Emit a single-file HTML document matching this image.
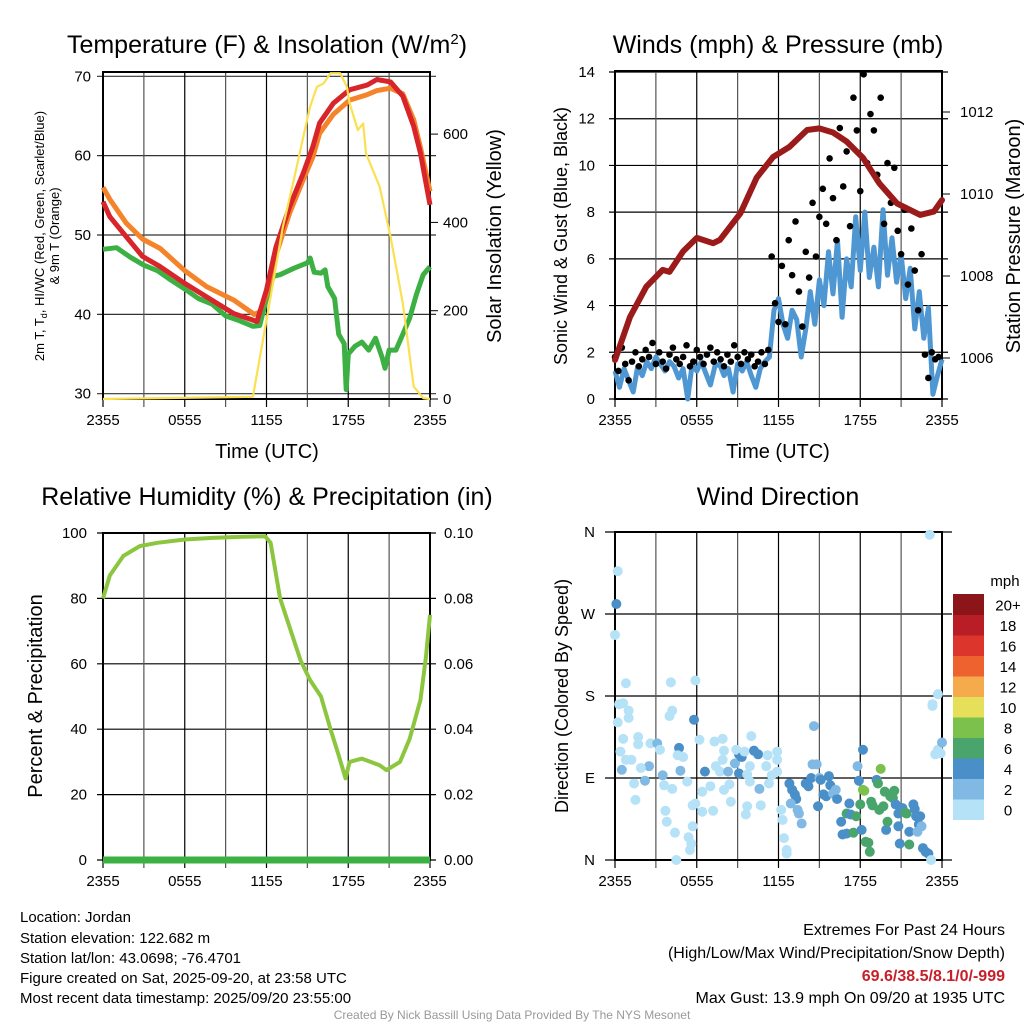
<!DOCTYPE html>
<html><head><meta charset="utf-8"><style>
html,body{margin:0;padding:0;background:#fff}
svg{display:block;font-family:"Liberation Sans",Arial,sans-serif}
</style></head><body>
<svg id="fig" width="1024" height="1024" viewBox="0 0 1024 1024" xmlns="http://www.w3.org/2000/svg">
<rect width="1024" height="1024" fill="#fff"/>
<g id="p1"></g>
<g id="p2"></g>
<g id="p3"></g>
<g id="p4"></g>
<text x="267" y="53" font-size="25" text-anchor="middle">Temperature (F) &amp; Insolation (W/m<tspan dy="-9" font-size="15">2</tspan><tspan dy="9">)</tspan></text>
<text x="778" y="53" font-size="25" text-anchor="middle">Winds (mph) &amp; Pressure (mb)</text>
<text x="267" y="505" font-size="25" text-anchor="middle">Relative Humidity (%) &amp; Precipitation (in)</text>
<text x="778" y="505" font-size="25" text-anchor="middle">Wind Direction</text>
<text transform="translate(44,236) rotate(-90)" font-size="13" text-anchor="middle">2m T, T<tspan font-size="9" dy="3">d</tspan><tspan dy="-3">, HI/WC (Red, Green, Scarlet/Blue)</tspan></text>
<text transform="translate(59,236) rotate(-90)" font-size="13" text-anchor="middle">&amp; 9m T (Orange)</text>
<text transform="translate(501,236) rotate(-90)" font-size="20" text-anchor="middle">Solar Insolation (Yellow)</text>
<text transform="translate(567,236) rotate(-90)" font-size="18" text-anchor="middle">Sonic Wind &amp; Gust (Blue, Black)</text>
<text transform="translate(1020,236) rotate(-90)" font-size="20" text-anchor="middle">Station Pressure (Maroon)</text>
<text transform="translate(42,696) rotate(-90)" font-size="20" text-anchor="middle">Percent &amp; Precipitation</text>
<text transform="translate(568,696) rotate(-90)" font-size="18" text-anchor="middle">Direction (Colored By Speed)</text>
<text x="267" y="458" font-size="20" text-anchor="middle">Time (UTC)</text>
<text x="778" y="458" font-size="20" text-anchor="middle">Time (UTC)</text>
<g font-size="15">
<text x="20" y="922">Location: Jordan</text>
<text x="20" y="943">Station elevation: 122.682 m</text>
<text x="20" y="963">Station lat/lon: 43.0698; -76.4701</text>
<text x="20" y="983">Figure created on Sat, 2025-09-20, at 23:58 UTC</text>
<text x="20" y="1003">Most recent data timestamp: 2025/09/20 23:55:00</text>
</g>
<g font-size="16" text-anchor="end">
<text x="1005" y="935">Extremes For Past 24 Hours</text>
<text x="1005" y="958">(High/Low/Max Wind/Precipitation/Snow Depth)</text>
<text x="1005" y="981" fill="#c8202a" font-weight="bold">69.6/38.5/8.1/0/-999</text>
<text x="1005" y="1003">Max Gust: 13.9 mph On 09/20 at 1935 UTC</text>
</g>
<text x="512" y="1019" font-size="12" fill="#999" text-anchor="middle">Created By Nick Bassill Using Data Provided By The NYS Mesonet</text>
</svg>
<script>
const timeTicks = ["2355","0555","1155","1755","2355"];
const t2Hours = [0,0.5,1.7,2.9,4.2,6.0,7.6,9.6,11.3,12.0,12.7,13.7,14.7,15.4,15.9,16.9,18.1,19.4,20.1,21.1,22.0,22.8,23.3,24];
const t2Vals  = [54.2,52.3,49.8,47.3,46.0,43.9,42.2,40.1,39.1,43.1,48.5,53.6,57.8,61.1,64.1,66.6,68.3,68.9,69.6,69.3,67.5,63.7,60.3,53.8];
const t9Hours = [0,0.5,1.7,2.9,4.2,6.0,7.6,9.6,11.1,11.5,12.0,12.7,13.7,14.7,15.4,15.9,16.9,18.1,19.4,20.1,21.1,22.0,22.8,23.3,24];
const t9Vals  = [56.0,54.5,51.5,49.5,48.3,45.5,43.5,41.8,40.0,40.3,42.5,47.5,52.8,57.0,59.8,62.8,65.2,67.0,67.7,68.2,68.5,67.8,64.5,61.0,55.5];
const tdHours = [0,1,2,3,4,5,6,7,8,9,10,11,11.5,12,12.5,13,14,15,15.2,15.5,16,16.3,16.5,17,17.3,17.7,17.85,18.0,18.5,19,19.5,20,20.5,20.7,21,21.5,22,22.5,23,23.5,24];
const tdVals  = [48.2,48.4,47.2,46.2,45.5,44.3,43.2,42.0,41.3,39.8,39.2,38.5,38.6,42.0,44.8,45.0,45.8,46.5,47.1,45.3,45.2,45.6,43.5,42.0,37.5,36.3,30.5,35.0,36.0,36.5,35.5,37.0,34.5,33.2,35.5,35.5,37.5,39.5,42.5,45.0,46.0];
const solarHours = [0,11.0,12.0,13.2,14.0,14.7,15.2,15.7,16.2,16.7,17.4,17.9,18.1,18.7,19.1,19.3,20.3,21.1,22.0,22.8,23.5,24];
const solarVals  = [0,5,179,390,496,594,662,707,715,738,738,707,670,609,624,556,481,368,217,28,2,0];
const tempTicks = [30,40,50,60,70];
const solarTicks = [0,200,400,600];
const windVals = [1.2,0.5,1.3,0.8,0.3,1.4,1.0,1.6,1.3,1.8,1.5,1.2,1.6,1.4,0.9,1.3,0.0,1.5,1.2,1.6,1.1,0.6,1.4,1.5,1.0,1.3,0.3,1.5,1.2,1.6,1.0,0.5,1.3,1.6,
 1.8,3.8,4.3,3.2,2.6,3.8,3.4,1.8,3.0,4.6,3.2,5.1,4.0,6.3,4.5,6.8,3.5,6.0,4.8,7.8,5.5,8.0,5.2,6.5,4.8,8.1,5.3,6.9,5.0,6.2,4.3,5.6,3.0,4.6,2.6,3.9,0.2,1.0,1.7];
const gustVals = [1.8,1.2,2.2,1.5,0.8,1.6,2.0,1.4,1.7,2.1,1.8,2.4,1.5,2.0,1.6,1.3,1.9,2.2,1.7,1.5,1.8,2.3,1.4,1.6,2.1,1.8,1.5,1.9,2.2,1.6,2.0,1.7,1.4,1.9,1.6,2.3,1.8,1.5,2.0,1.7,1.9,1.4,1.6,2.0,1.5,2.1,
 6.1,4.1,3.3,5.7,3.2,6.8,5.3,7.6,4.6,3.1,6.3,5.2,8.4,6.1,7.8,9.0,7.5,10.3,8.6,6.8,11.6,9.1,10.6,7.4,12.9,11.5,8.9,13.9,10.1,12.2,11.5,9.6,12.9,7.5,10.1,8.4,9.9,7.2,6.2,8.1,4.9,7.3,5.5,3.8,6.2,1.9,0.9,2.0,1.7,1.8];
const presHours = [0,1.1,2.3,3.5,4.0,5.0,6.0,7.2,7.7,9.2,10.4,11.6,12.8,14.1,15.0,16.0,17.0,18.2,19.4,20.7,22.4,23.4,24];
const presVals  = [1005.95,1007.0,1007.74,1008.15,1008.1,1008.6,1008.93,1008.8,1008.88,1009.53,1010.4,1010.9,1011.15,1011.56,1011.6,1011.5,1011.28,1010.88,1010.26,1009.77,1009.49,1009.57,1009.85];
const windTicks = [0,2,4,6,8,10,12,14];
const presTicks = [1006,1008,1010,1012];
const rhHours = [0,0.5,1.5,2.7,4,6,8,10,11.9,12.3,13.0,14.5,15.2,16.0,16.7,17.3,17.8,18.1,19.0,20.3,20.8,21.8,22.5,23.3,23.7,24];
const rhVals  = [80,87,93,96,97,98,98.5,98.8,99,97,80,61,55,50,40,32,25,30,31,29,27.5,30,37,49,62,75];
const rhTicks = [0,20,40,60,80,100];
const precipTicks = ["0.00","0.02","0.04","0.06","0.08","0.10"];
const dirHours = [0.2,0.1,0.0,0.8,0.3,0.6,0.2,1.0,1.0,0.6,1.7,0.4,2.6,1.7,1.2,0.8,0.5,2.5,3.1,2.2,1.4,1.5,1.9,3.5,3.3,4.1,4.0,4.2,3.7,3.8,4.4,3.6,4.2,4.7,4.6,4.8,5.3,5.0,5.9,5.8,6.2,6.6,5.7,5.9,5.4,5.6,5.5,5.7,4.5,6.4,6.4,7.2,7.0,7.3,7.9,8.0,7.4,7.7,7.9,8.3,8.4,8.5,8.0,8.8,9.1,8.9,9.3,9.1,9.5,10.0,10.2,10.5,9.9,9.7,9.9,9.6,9.7,10.6,10.7,11.1,11.2,11.5,11.3,11.9,11.9,11.9,12.2,12.3,12.4,12.6,12.6,12.8,13.0,13.2,13.3,12.9,13.4,13.5,13.7,14.0,14.2,14.4,14.6,14.5,14.8,15.0,15.1,14.9,15.3,15.5,15.7,15.8,16.0,16.3,16.2,16.6,16.7,17.0,17.0,17.2,17.3,17.5,17.7,17.8,17.9,18.0,18.1,18.2,18.2,18.3,18.4,18.6,18.7,18.8,18.9,19.2,19.3,19.4,19.5,19.7,19.8,19.9,20.0,20.2,20.4,20.5,20.6,20.8,20.9,20.8,21.1,21.3,21.4,21.6,21.6,21.9,22.0,22.1,22.3,22.4,22.5,22.2,22.6,22.8,23.0,23.2,23.1,23.3,23.3,23.7,23.5,23.7,24.0,23.9];
const dirDegs = [317,281,247,194,171,172,151,164,156,133,135,119,128,127,110,110,99,103,128,87,84,66,101,93,121,195,158,164,54,42,30,82,78,123,115,98,86,113,197,154,132,97,60,62,25,18,11,37,0,75,53,54,81,130,133,120,103,97,110,97,83,64,77,106,116,121,113,95,119,136,120,116,103,94,86,50,59,78,60,103,115,93,84,119,110,97,55,44,24,11,7,84,77,72,67,62,55,51,40,84,81,90,147,105,105,90,88,59,72,70,92,82,73,67,77,42,28,51,29,62,50,30,48,103,87,61,33,121,77,76,20,19,9,64,60,88,84,55,100,59,75,33,42,70,68,76,61,37,18,51,57,52,51,17,31,61,56,48,39,48,37,31,13,9,7,0,357,171,169,182,116,121,129,117];
const dirSpeeds = [1,5,1,1,1,1,1,1,1,1,1,1,1,1,1,1,3,3,3,3,1,1,1,3,1,1,1,1,1,1,1,1,1,5,1,3,1,1,1,5,1,5,1,1,1,1,1,1,1,1,1,1,1,1,1,1,1,1,1,3,1,1,1,3,5,1,5,5,1,1,5,5,1,1,1,1,1,3,1,1,1,1,1,1,1,1,1,1,1,1,1,5,5,5,5,3,3,3,3,5,5,5,3,3,3,3,5,5,5,5,5,5,3,5,3,5,5,7,5,5,5,7,7,3,5,7,5,5,9,9,7,7,7,7,7,5,7,7,9,7,7,5,7,7,7,7,5,5,5,5,5,7,7,7,5,5,5,5,5,5,3,3,5,5,5,1,1,1,1,1,1,1,3,1];
const dirTicks = ["N","E","S","W","N"];
const speedBins = ["0","2","4","6","8","10","12","14","16","18","20+"];
const speedColors = ["#b5e2f7","#80b9e3","#4a8fc7","#49a56b","#7cc14b","#e5df5a","#f5aa4b","#ee6230","#dc352c","#b91d26","#8c1519"];

const NS="http://www.w3.org/2000/svg";
function mk(parent,tag,attrs){const e=document.createElementNS(NS,tag);for(const k in attrs)e.setAttribute(k,attrs[k]);parent.appendChild(e);return e;}
function linScale(d0,d1,r0,r1){return v=>r0+(v-d0)*(r1-r0)/(d1-d0);}

function frame(g,x0,x1,y0,y1,xs){
  for(let h=0;h<=24;h+=3){
    const l=mk(g,'line',{x1:xs(h),x2:xs(h),y1:y0,y2:y1+8,stroke:(h%6===0?'#000':'#555'),'stroke-width':1.2});
    
    
  }
  timeTicks.forEach((t,i)=>{
    const e=mk(g,'text',{x:xs(i*6),y:y1+26,'font-size':15,'text-anchor':'middle'});e.textContent=t;
    
    
  });
  const r=mk(g,'rect',{x:x0,y:y0,width:x1-x0,height:y1-y0,fill:'none',stroke:'#000','stroke-width':2});
  
  
}
function hline(g,y,x0,x1,ext,col){
  const l=mk(g,'line',{x1:x0-ext,x2:x1+ext,y1:y,y2:y,stroke:col||'#000','stroke-width':1.2});
  
  
}
function pathOf(xsArr,ysArr,xs,ys){return xsArr.map((h,i)=>(i?'L':'M')+xs(h).toFixed(1)+','+ys(ysArr[i]).toFixed(1)).join('');}
function label(g,x,y,txt,anchor,name,size){
  const e=mk(g,'text',{x:x,y:y,'font-size':size||15,'text-anchor':anchor});e.textContent=txt;
  
  
}

(function(){
  const g=document.getElementById('p1');
  const X0=103,X1=430,Y0=72,Y1=399;
  const xs=linScale(0,24,X0,X1), yt=linScale(30,70,393.7,76.3), ys=linScale(0,200,399,310.7);
  tempTicks.forEach(v=>{hline(g,yt(v),X0,X1,6,'#333');label(g,X0-12,yt(v)+5,String(v),'end','temp-tick-label');});
  solarTicks.forEach(v=>{const l=mk(g,'line',{x1:X1,x2:X1+8,y1:ys(v),y2:ys(v),stroke:'#000'});label(g,X1+13,ys(v)+5,String(v),'start','solar-tick-label');});
  frame(g,X0,X1,Y0,Y1,xs);
  let p=mk(g,'path',{d:pathOf(tdHours,tdVals,xs,yt),fill:'none',stroke:'#3cb043','stroke-width':5,'stroke-linejoin':'round'});
  
  p=mk(g,'path',{d:pathOf(t9Hours,t9Vals,xs,yt),fill:'none',stroke:'#f5832a','stroke-width':5,'stroke-linejoin':'round'});
  
  p=mk(g,'path',{d:pathOf(t2Hours,t2Vals,xs,yt),fill:'none',stroke:'#d7252a','stroke-width':5,'stroke-linejoin':'round'});
  
  p=mk(g,'path',{d:pathOf(solarHours,solarVals,xs,ys),fill:'none',stroke:'#fbe050','stroke-width':2.2,'stroke-linejoin':'round'});
  
})();

(function(){
  const g=document.getElementById('p2');
  const X0=615,X1=942,Y0=71,Y1=399;
  const xs=linScale(0,24,X0,X1), yw=linScale(0,14,399,72), yp=linScale(1006,1012,358,112);
  windTicks.forEach(v=>{hline(g,yw(v),X0,X1,6);label(g,X0-20,yw(v)+5,String(v),'end','wind-tick-label');});
  presTicks.forEach(v=>{const l=mk(g,'line',{x1:X1,x2:X1+8,y1:yp(v),y2:yp(v),stroke:'#000'});label(g,X1+18,yp(v)+5,String(v),'start','pressure-tick-label');});
  frame(g,X0,X1,Y0,Y1,xs);
  const wh=windVals.map((v,i)=>i/3);
  let p=mk(g,'path',{d:pathOf(wh,windVals,xs,yw),fill:'none',stroke:'#4f97d3','stroke-width':5,'stroke-linejoin':'round'});
  
  gustVals.forEach((v,i)=>{
    const c=mk(g,'circle',{cx:xs(i*0.25),cy:yw(v),r:3.3,fill:'#000'});
    
    
  });
  p=mk(g,'path',{d:pathOf(presHours,presVals,xs,yp),fill:'none',stroke:'#9b1b1b','stroke-width':6,'stroke-linejoin':'round','stroke-linecap':'round'});
  
})();

(function(){
  const g=document.getElementById('p3');
  const X0=103,X1=430,Y0=533,Y1=860;
  const xs=linScale(0,24,X0,X1), yr=linScale(0,100,860,533);
  rhTicks.forEach((v,i)=>{hline(g,yr(v),X0,X1,6);label(g,X0-16,yr(v)+5,String(v),'end','rh-tick-label');label(g,X1+14,yr(v)+5,precipTicks[i],'start','precip-tick-label');});
  frame(g,X0,X1,Y0,Y1,xs);
  let p=mk(g,'path',{d:pathOf(rhHours,rhVals,xs,yr),fill:'none',stroke:'#8cc63f','stroke-width':4,'stroke-linejoin':'round'});
  
  p=mk(g,'line',{x1:X0,x2:X1,y1:yr(0),y2:yr(0),stroke:'#3cb043','stroke-width':7});
  
})();

(function(){
  const g=document.getElementById('p4');
  const X0=615,X1=942,Y0=532,Y1=860;
  const xs=linScale(0,24,X0,X1), yd=linScale(0,360,860,532);
  dirTicks.forEach((t,i)=>{hline(g,yd(i*90),X0,X1,10);label(g,X0-20,yd(i*90)+5,t,'end','direction-tick-label',15);});
  frame(g,X0,X1,Y0,Y1,xs);
  dirHours.forEach((h,i)=>{
    const bin=Math.min(10,Math.floor(dirSpeeds[i]/2));
    const c=mk(g,'circle',{cx:xs(h),cy:yd(dirDegs[i]),r:5,fill:speedColors[bin]});
    
    
  });
  const cb0=594, seg=20.5;
  label(g,1005,586,'mph','middle','colorbar-title',15);
  speedBins.forEach((b,i)=>{
    const y=cb0+(10-i)*seg;
    const r=mk(g,'rect',{x:953,y:y,width:31,height:seg+0.5,fill:speedColors[i]});
    
    
    label(g,1008,y+seg/2+6,b,'middle','colorbar-label',15);
  });
})();
</script>
</body></html>
